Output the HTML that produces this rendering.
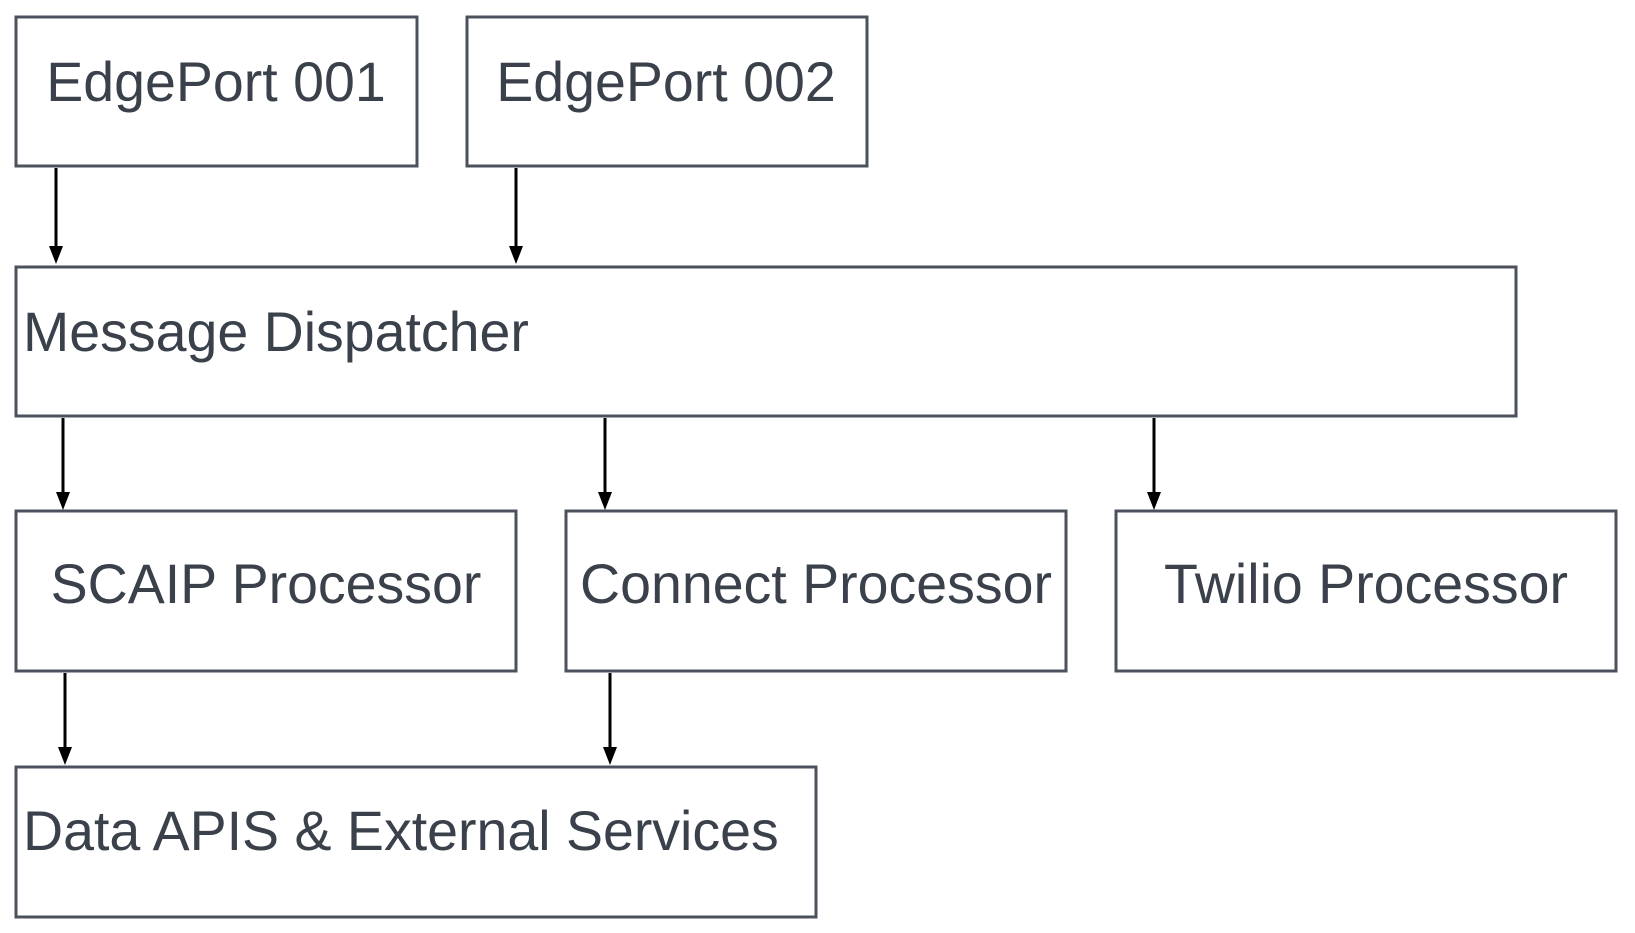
<!DOCTYPE html>
<html><head><meta charset="utf-8"><style>
html,body{margin:0;padding:0;background:#fff;width:1635px;height:933px;overflow:hidden}
svg text{font-family:"Liberation Sans",sans-serif;font-size:55.5px;fill:#3a414b}
</style></head><body>
<svg width="1635" height="933" viewBox="0 0 1635 933" xmlns="http://www.w3.org/2000/svg">
<g fill="#fff" stroke="#4b525c" stroke-width="3">
<rect x="16" y="17" width="401" height="149"/>
<rect x="467" y="17" width="400" height="149"/>
<rect x="16" y="267" width="1500" height="149"/>
<rect x="16" y="511" width="500" height="160"/>
<rect x="566" y="511" width="500" height="160"/>
<rect x="1116" y="511" width="500" height="160"/>
<rect x="16" y="767" width="800" height="150"/>
</g>
<g stroke="#000" stroke-width="3" fill="#000">
<line x1="56" y1="168" x2="56" y2="250"/><path d="M49,246 L63,246 L56,264 Z" stroke="none"/>
<line x1="516" y1="168" x2="516" y2="250"/><path d="M509,246 L523,246 L516,264 Z" stroke="none"/>
<line x1="63" y1="418" x2="63" y2="496"/><path d="M56,492 L70,492 L63,510 Z" stroke="none"/>
<line x1="605" y1="418" x2="605" y2="496"/><path d="M598,492 L612,492 L605,510 Z" stroke="none"/>
<line x1="1154" y1="418" x2="1154" y2="496"/><path d="M1147,492 L1161,492 L1154,510 Z" stroke="none"/>
<line x1="65" y1="673" x2="65" y2="751"/><path d="M58,747 L72,747 L65,765 Z" stroke="none"/>
<line x1="610" y1="673" x2="610" y2="751"/><path d="M603,747 L617,747 L610,765 Z" stroke="none"/>
</g>
<text x="216" y="101" text-anchor="middle">EdgePort 001</text>
<text x="666" y="101" text-anchor="middle">EdgePort 002</text>
<text x="23" y="351">Message Dispatcher</text>
<text x="266" y="603" text-anchor="middle">SCAIP Processor</text>
<text x="816" y="603" text-anchor="middle">Connect Processor</text>
<text x="1366" y="603" text-anchor="middle">Twilio Processor</text>
<text x="23" y="850">Data APIS &amp; External Services</text>
</svg>
</body></html>
